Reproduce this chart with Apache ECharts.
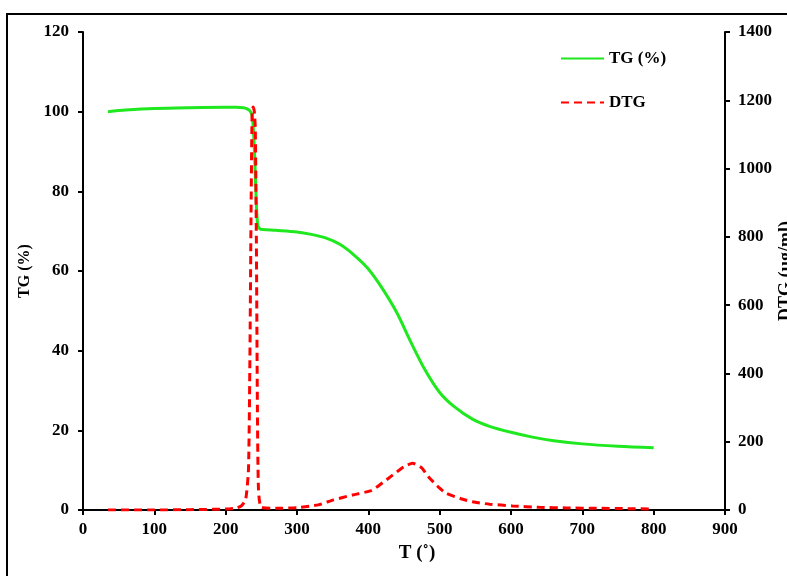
<!DOCTYPE html>
<html>
<head>
<meta charset="utf-8">
<script src="https://cdn.jsdelivr.net/npm/echarts@6/dist/echarts.min.js"></script>
<style>html,body{margin:0;padding:0;background:#fff}#c{width:787px;height:576px}</style>
</head>
<body>
<div id="c"></div>
<script>
var tgT = [35, 60, 100, 150, 200, 215, 225, 230, 234, 237, 239, 241, 243, 245, 248, 252, 270, 300, 320, 340, 360, 380, 400, 420, 440, 460, 480, 500, 520, 546, 570, 600, 630, 660, 700, 750, 800];
var tgV = [100, 100.4, 100.8, 101, 101.1, 101.1, 101, 100.7, 100.2, 99, 95, 87, 77, 71.5, 70.6, 70.4, 70.2, 69.8, 69.2, 68.3, 66.7, 64, 60.5, 55.5, 49.5, 42, 35, 29.5, 26, 22.8, 21, 19.5, 18.3, 17.4, 16.6, 16, 15.6];

var dtgT = [35, 100, 150, 200, 215, 222, 228, 232, 234, 235.5, 237, 238.5, 240, 241.5, 243, 244.5, 246, 250, 270, 300, 330, 350, 378, 404, 420, 434, 450, 462, 474, 486, 500, 509, 530, 546, 570, 602, 640, 678, 720, 760, 797];
var dtgV = [0, 0, 1, 3, 6, 12, 30, 120, 450, 850, 1150, 1180, 1170, 1120, 800, 300, 60, 8, 5, 7, 15, 29, 44, 57, 80, 102, 127, 137, 125, 93, 64, 49, 33, 24, 17, 12, 8, 6, 5, 4, 3];

var xTicks = [0, 900, 100];
var yLeft = [0, 120, 20];
var yRight = [0, 1400, 200];

function pairs(a, b) { return a.map(function (v, i) { return [v, b[i]]; }); }

var font = '"Liberation Serif", "Times New Roman", serif';
var chart = echarts.init(document.getElementById('c'), null, {renderer: 'canvas'});
var axisLine = {show: true, lineStyle: {color: '#000', width: 2}};
var lbl = {color: '#000', fontFamily: font, fontWeight: 'bold', fontSize: 17, formatter: function (v) { return String(v); }};
chart.setOption({
  animation: false,
  backgroundColor: '#fff',
  grid: {left: 83, right: 62, top: 32, bottom: 66, containLabel: false, outerBoundsMode: 'none'},
  graphic: [{
    type: 'rect', shape: {x: 7, y: 14, width: 820, height: 620},
    style: {fill: 'none', stroke: '#000', lineWidth: 2}, silent: true, z: 100
  }],
  legend: {
    orient: 'vertical', left: 555, top: 45, itemWidth: 43, itemHeight: 14, itemGap: 27,
    itemStyle: {opacity: 0},
    textStyle: {color: '#000', fontFamily: font, fontWeight: 'bold', fontSize: 17},
    data: ['TG (%)', 'DTG']
  },
  xAxis: {
    type: 'value', min: xTicks[0], max: xTicks[1], interval: xTicks[2],
    name: 'T (˚)', nameLocation: 'middle', nameGap: 34,
    nameTextStyle: {color: '#000', fontFamily: font, fontWeight: 'bold', fontSize: 19, padding: [0, 0, 0, 26]},
    axisLine: axisLine, axisTick: {show: true, length: 5, lineStyle: {color: '#000', width: 2}},
    axisLabel: Object.assign({}, lbl, {margin: 11}), splitLine: {show: false}
  },
  yAxis: [{
    type: 'value', min: yLeft[0], max: yLeft[1], interval: yLeft[2], position: 'left',
    name: 'TG (%)', nameLocation: 'middle', nameGap: 46, nameRotate: 90,
    nameTextStyle: {color: '#000', fontFamily: font, fontWeight: 'bold', fontSize: 16},
    axisLine: axisLine, axisTick: {show: true, length: 5, lineStyle: {color: '#000', width: 2}},
    axisLabel: Object.assign({}, lbl, {margin: 14}), splitLine: {show: false}
  }, {
    type: 'value', min: yRight[0], max: yRight[1], interval: yRight[2], position: 'right',
    name: 'DTG (µg/ml)', nameLocation: 'middle', nameGap: 52, nameRotate: 90, nameMoveOverlap: false,
    nameTextStyle: {color: '#000', fontFamily: font, fontWeight: 'bold', fontSize: 18},
    axisLine: axisLine, axisTick: {show: true, length: 5, lineStyle: {color: '#000', width: 2}},
    axisLabel: Object.assign({}, lbl, {margin: 13}), splitLine: {show: false}
  }],
  series: [{
    name: 'TG (%)', type: 'line', yAxisIndex: 0, data: pairs(tgT, tgV),
    showSymbol: false, symbol: 'none', smooth: 0.3,
    lineStyle: {color: '#1fe81f', width: 3}, itemStyle: {color: '#1fe81f'}
  }, {
    name: 'DTG', type: 'line', yAxisIndex: 1, data: pairs(dtgT, dtgV),
    showSymbol: false, symbol: 'none', smooth: 0.2,
    lineStyle: {color: '#ff0000', width: 3, type: [8, 5]}, itemStyle: {color: '#ff0000'}
  }]
});
</script>
</body>
</html>
